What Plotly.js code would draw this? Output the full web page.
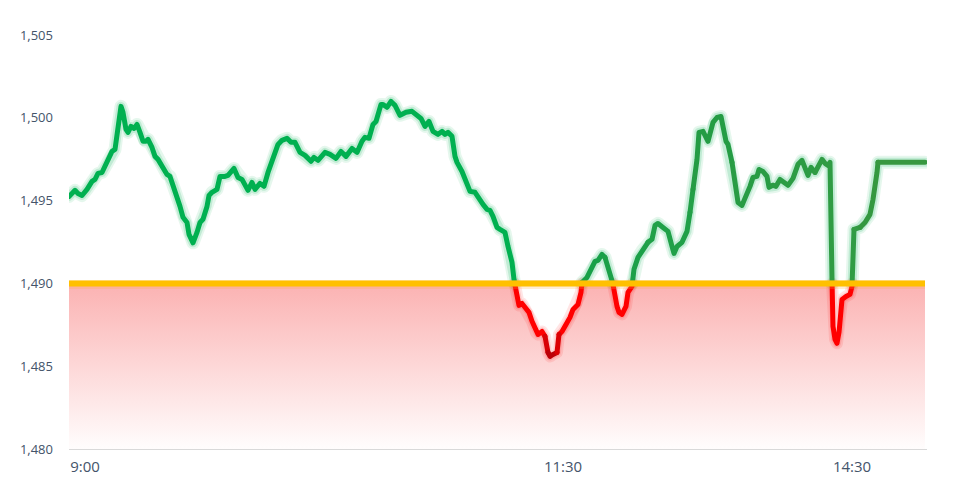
<!DOCTYPE html>
<html>
<head>
<meta charset="utf-8">
<script src="https://cdn.plot.ly/plotly-3.0.1.min.js"></script>
<style>html,body{margin:0;padding:0;background:#fff}#chart{width:975px;height:478px}</style>
</head>
<body>
<div id="chart"></div>
<script>
// ---- data ----
const sessionIndex = [
  0,6,9,13,18,23,26,29,33,38,43,46,49,52,54,57,59,62,65,68,
  71,74,77,79,83,86,89,94,98,101,104,108,111,114,118,120,124,128,131,134,
  138,140,143,148,151,156,159,165,169,173,179,183,186,191,195,199,204,209,213,218,
  222,226,231,236,242,245,249,256,261,267,272,277,283,288,293,296,300,304,307,312,
  314,318,322,326,331,337,343,347,352,356,360,364,369,373,376,379,383,386,388,393,
  398,401,406,409,414,418,421,424,428,431,436,439,443,445,448,450,453,457,460,463,
  467,469,473,476,479,481,484,488,490,493,497,501,504,509,512,513,518,523,526,529,
  533,536,539,543,545,548,550,553,557,559,563,565,569,574,579,583,586,589,594,599,
  603,605,608,613,618,621,624,628,630,634,639,644,648,652,654,657,659,663,666,669,
  673,677,681,684,688,690,694,698,700,704,707,711,715,719,724,729,733,736,739,742,
  746,749,753,756,759,761,763,764,766,768,770,773,777,781,783,785,791,796,801,804,
  808,809,856
];
const price = [
  1495.25,1495.62,1495.43,1495.31,1495.68,1496.16,1496.28,1496.64,1496.70,1497.31,
  1497.97,1498.09,1499.48,1500.69,1500.33,1499.30,1499.12,1499.48,1499.36,1499.60,
  1499.12,1498.58,1498.58,1498.70,1498.21,1497.67,1497.49,1497.01,1496.58,1496.46,
  1495.98,1495.25,1494.65,1493.99,1493.68,1492.96,1492.45,1493.08,1493.68,1493.87,
  1494.65,1495.31,1495.50,1495.68,1496.46,1496.46,1496.52,1496.94,1496.40,1496.28,
  1495.62,1496.10,1495.68,1496.04,1495.86,1496.70,1497.49,1498.39,1498.64,1498.76,
  1498.52,1498.52,1497.91,1497.73,1497.37,1497.61,1497.43,1497.91,1497.79,1497.55,
  1497.97,1497.67,1498.15,1497.91,1498.58,1498.82,1498.76,1499.60,1499.78,1500.81,
  1500.81,1500.63,1500.99,1500.75,1500.15,1500.33,1500.39,1500.21,1499.96,1499.48,
  1499.78,1499.18,1499.00,1499.18,1499.00,1499.12,1498.88,1497.67,1497.31,1496.76,
  1496.10,1495.56,1495.50,1495.19,1494.77,1494.47,1494.41,1494.05,1493.38,1493.26,
  1493.08,1492.23,1491.27,1490.24,1489.21,1488.67,1488.79,1488.43,1488.25,1487.71,
  1487.04,1486.92,1487.10,1486.80,1485.83,1485.59,1485.71,1485.83,1486.92,1487.10,
  1487.52,1487.95,1488.43,1488.73,1489.46,1490.06,1490.36,1490.97,1491.33,1491.39,
  1491.75,1491.57,1490.97,1490.36,1489.46,1488.61,1488.25,1488.13,1488.61,1489.46,
  1489.82,1490.85,1491.57,1492.05,1492.48,1492.66,1493.50,1493.62,1493.38,1493.14,
  1492.23,1491.81,1492.23,1492.48,1493.14,1494.29,1495.68,1497.49,1499.12,1499.18,
  1498.58,1499.72,1500.02,1500.08,1499.48,1498.58,1498.39,1497.31,1496.16,1494.89,
  1494.71,1495.25,1495.86,1496.40,1496.46,1496.88,1496.76,1496.46,1495.80,1495.92,
  1495.86,1496.28,1496.10,1495.92,1496.34,1497.19,1497.43,1496.88,1496.52,1497.01,
  1496.70,1497.07,1497.49,1497.25,1497.13,1497.31,1490.24,1487.40,1486.62,1486.38,
  1487.04,1489.03,1489.21,1489.34,1489.82,1493.26,1493.38,1493.68,1494.17,1495.07,
  1496.70,1497.31,1497.31
];
const baseline = 1490;
const yMin = 1480, yMax = 1505;
const yTicks = [1480, 1485, 1490, 1495, 1500, 1505];
const xTickPositions = [16, 494, 783];
const xTickLabels = ['9:00', '11:30', '14:30'];

// ---- helpers ----
const xEnd = sessionIndex[sessionIndex.length - 1];
function clamp(t){ return Math.max(0, Math.min(1, t)); }
function mix(a, b, t){ return a.map((c, i) => Math.round(c + (b[i] - c) * t)); }
function q(c){ return c.map(v => Math.min(255, Math.round(v / 4) * 4)); }
function greenAt(x){
  const g0 = [0,176,80], g1 = [24,160,72], g2 = [56,152,64];
  if (x < 470) return g0;
  if (x < 520) return mix(g0, g1, clamp((x - 470) / 50));
  return mix(g1, g2, clamp((x - 520) / (xEnd - 520)));
}
function redAt(x, v){
  if (x < 600) return mix([255,0,0], [188,0,8], clamp((1486.9 - v) / 1.0));
  return [255,0,0];
}

// insert crossing points at the baseline
const P = [];
for (let i = 0; i < price.length; i++) {
  if (i > 0) {
    const a = price[i-1], b = price[i];
    if ((a - baseline) * (b - baseline) < 0) {
      const t = (baseline - a) / (b - a);
      P.push({x: sessionIndex[i-1] + t * (sessionIndex[i] - sessionIndex[i-1]), v: baseline});
    }
  }
  P.push({x: sessionIndex[i], v: price[i]});
}

// group segments by colour
const groups = {};      // key -> {x:[],y:[],last:-1}
const glow = {green:{x:[],y:[],last:-1}, red:{x:[],y:[],last:-1}};
function addSeg(g, i){
  if (g.last !== i) {
    if (g.x.length) { g.x.push(null); g.y.push(null); }
    g.x.push(P[i].x); g.y.push(P[i].v);
  }
  g.x.push(P[i+1].x); g.y.push(P[i+1].v);
  g.last = i + 1;
}
for (let i = 0; i < P.length - 1; i++) {
  const mx = (P[i].x + P[i+1].x) / 2, mv = (P[i].v + P[i+1].v) / 2;
  const above = mv >= baseline;
  const c = q(above ? greenAt(mx) : redAt(mx, mv));
  const key = 'rgb(' + c.join(',') + ')';
  if (!groups[key]) groups[key] = {x:[], y:[], last:-1};
  addSeg(groups[key], i);
  addSeg(above ? glow.green : glow.red, i);
}

const traces = [];
// red gradient band below the baseline
traces.push({x:[0, xEnd], y:[yMin, yMin], mode:'lines', line:{width:0}, hoverinfo:'skip'});
traces.push({x:[0, xEnd], y:[baseline, baseline], mode:'lines', line:{width:0}, fill:'tonexty',
  fillgradient:{type:'vertical', start:yMin, stop:baseline,
    colorscale:[[0,'rgb(255,253,253)'],[1,'rgb(251,178,178)']]}, hoverinfo:'skip'});
// white area between dips and baseline
traces.push({x:P.map(p => p.x), y:P.map(() => baseline), mode:'lines', line:{width:0}, hoverinfo:'skip'});
traces.push({x:P.map(p => p.x), y:P.map(p => Math.min(p.v, baseline)), mode:'lines', line:{width:0},
  fill:'tonexty', fillcolor:'#ffffff', hoverinfo:'skip'});
// glow
traces.push({x:glow.green.x, y:glow.green.y, mode:'lines', line:{width:13, color:'rgba(0,176,80,0.10)'}, meta:'price'});
traces.push({x:glow.green.x, y:glow.green.y, mode:'lines', line:{width:9, color:'rgba(0,176,80,0.16)'}, meta:'price'});
traces.push({x:glow.red.x, y:glow.red.y, mode:'lines', line:{width:12, color:'rgba(255,0,0,0.10)'}, meta:'price'});
traces.push({x:glow.red.x, y:glow.red.y, mode:'lines', line:{width:8, color:'rgba(255,0,0,0.12)'}, meta:'price'});
// price line
Object.keys(groups).forEach(k => {
  traces.push({x:groups[k].x, y:groups[k].y, mode:'lines', line:{width:5, color:k}, meta:'price'});
});
// baseline
traces.push({x:[0, xEnd], y:[baseline - 0.06, baseline - 0.06], mode:'lines', line:{width:9, color:'rgba(255,170,60,0.22)'}});
traces.push({x:[0, xEnd], y:[baseline, baseline], mode:'lines', line:{width:6, color:'#FFC000'}});

const tickFont = {family:'"Open Sans", "Liberation Sans", sans-serif', color:'#44546A'};
const layout = {
  width:975, height:478,
  margin:{l:69, r:48, t:35, b:29},
  paper_bgcolor:'#ffffff', plot_bgcolor:'#ffffff',
  showlegend:false, hovermode:false,
  xaxis:{range:[0, 858], showgrid:false, zeroline:false, showline:true, linecolor:'#d9d9d9', linewidth:1,
    tickmode:'array', tickvals:xTickPositions, ticktext:xTickLabels, ticks:'',
    tickfont:Object.assign({size:15}, tickFont), ticklabelstandoff:4, fixedrange:true},
  yaxis:{range:[yMin, yMax], showgrid:false, zeroline:false, showline:false,
    tickmode:'array', tickvals:yTicks, tickformat:',', ticks:'',
    tickfont:Object.assign({size:13}, tickFont), ticklabelstandoff:15, fixedrange:true}
};

Plotly.newPlot('chart', traces, layout, {displayModeBar:false, staticPlot:true}).then(() => {
  document.querySelectorAll('.scatterlayer .trace').forEach(node => {
    const d = node.__data__;
    const tr = d && d[0] && d[0].trace;
    if (tr && tr.meta === 'price') {
      node.querySelectorAll('path.js-line').forEach(p => {
        p.style.strokeLinejoin = 'round';
        p.style.strokeLinecap = 'round';
      });
    }
  });
});
</script>
</body>
</html>
